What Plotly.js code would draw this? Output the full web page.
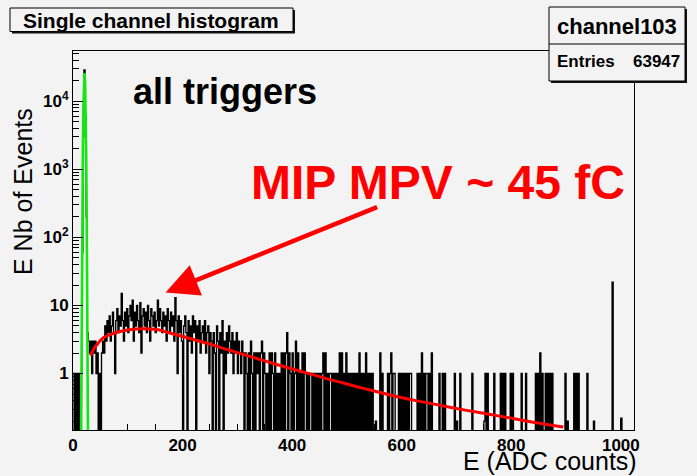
<!DOCTYPE html>
<html>
<head>
<meta charset="utf-8">
<script src="https://cdn.plot.ly/plotly-3.0.1.min.js"></script>
<style>
  html, body { margin: 0; padding: 0; background: #f3f3f3; }
  #chart { width: 697px; height: 476px; }
</style>
</head>
<body>
<div id="chart"></div>
<script>
// ---- histogram: channel 103, 2-ADC-wide bins from 0 to 1024 ----
const binWidth = 2;
const counts = [].concat(
  [1,0,1,0,1,0,1,1,60,3000,29000,6000,200,4,3,2],      //   0 -  31
  [3,1,3,2,3,1,2,0,1,0,2,3,2,5,3,6],                   //  32 -  63
  [4,7,3,5,8,4,1,6,9,4,7,5,15,6,3,8],                  //  64 -  95
  [5,9,4,7,10,6,12,3,8,5,10,6,4,11,2,7],               //  96 - 127
  [9,5,8,4,10,6,3,9,7,5,8,4,6,12,5,9],                 // 128 - 159
  [6,4,8,5,7,3,9,6,4,8,5,7,3,13,6,1],                  // 160 - 191
  [7,4,6,3,0,5,7,4,0,6,3,5,2,7,4,6],                   // 192 - 223
  [0,5,3,6,2,4,5,3,6,2,4,5,1,4,3,0],                   // 224 - 255
  [4,2,0,5,3,0,4,2,6,0,3,1,4,2,5,3],                   // 256 - 287
  [2,4,1,3,2,4,1,3,2,1,3,2,0,2,1,0],                   // 288 - 319
  [2,0,3,1,0,2,0,2,1,2,0,2,3,0,2,1],                   // 320 - 351
  [0,1,0,2,0,2,1,0,2,0,1,0,1,0,2,0],                   // 352 - 383
  [2,0,2,4,0,2,1,0,2,0,1,3,0,2,0,1],                   // 384 - 415
  [0,2,0,2,1,0,1,0,1,1,0,1,0,1,0,1],                   // 416 - 447
  [0,1,0,1,2,0,2,0,1,0,1,1,0,1,0,1],                   // 448 - 479
  [0,1,0,2,0,2,0,1,0,2,0,1,0,1,0,1],                   // 480 - 511
  [0,1,0,1,0,2,0,1,0,1,0,2,0,1,0,1],                   // 512 - 543
  [0,1,0,0,0.2,0,0,0,2,0,1,0,0,0,0,1],                 // 544 - 575
  [0,1,2,0,1,1,0,0,0,1,0,1,0,1,0,1],                   // 576 - 607
  [0,1,0,1,1,0,0,0,0,0,1,0,1,0,2,0],                   // 608 - 639
  [1,0,1,1,0,1,0,2,0,0,0,0,0,0,1,0],                   // 640 - 671
  [0,1,0,1,0,0,0,0,0,0,0,0,1,0,0.2,0],                 // 672 - 703
  [0,1,0,0,0,0,0,0,0,0,0,0,1,0,0,0],                   // 704 - 735
  [0,0,0,0,0,0,0,0.2,1,0,1,0,0,0,0,0],                 // 736 - 767
  [1,0,0,0,0,0,1,0,1,0,1,0,0,0,0,1],                   // 768 - 799
  [0,1,0,0,0,0,0,0,0,1,0,0,0,1,0,0],                   // 800 - 831
  [0,0,0,0,0,0,1,0,1,0,2,0,1,0,0,1],                   // 832 - 863
  [0,1,0,1,0,1,0,0,0,0,0,0,0,0,0,0],                   // 864 - 895
  [0,1,0,0.2,0,0,0,0,0,1,0,1,0,1,0,0],                 // 896 - 927
  [0,0,0,0,0,1,0,0,0,0,0,0.2,0,0,0,0],                 // 928 - 959
  [0,0,0,0,0,0,0,0,0,0,0,0,22,0,0,0],                  // 960 - 991
  [0,0,0,0,0.22,0,0,0,0,0,0,0,0,0,0,0]                 // 992 - 1023
);

// ---- pedestal gaussian fit (green) ----
const pedFitE = [14, 15, 16, 17, 18, 19, 20, 21, 22, 23, 24, 25, 26, 27, 28];
const pedFitN = [0.012, 0.6, 15, 230, 1800, 7900, 19300, 26000, 19300, 7900, 1800, 230, 15, 0.6, 0.012];

// ---- MIP fit (red) ----
const mipFitE = [32, 38, 44, 50, 56, 68, 80, 95, 110, 125, 140, 155, 172, 195, 220, 250, 282, 312, 342, 372,
                 403, 434, 464, 495, 525, 553, 580, 626, 671, 716, 762, 808, 854, 895];
const mipFitN = [1.84, 2.3, 2.67, 3.05, 3.38, 3.74, 4.05, 4.3, 4.48, 4.55, 4.52, 4.4, 4.05, 3.6, 3.16, 2.7, 2.25, 1.9, 1.6, 1.36,
                 1.15, 0.98, 0.835, 0.72, 0.62, 0.545, 0.48, 0.4, 0.34, 0.29, 0.25, 0.215, 0.184, 0.164];

// ---- axis ticks ----
const xTickVals = [0, 200, 400, 600, 800, 1000];
const xTickText = ['0', '200', '400', '600', '800', '1000'];
const yTickVals = [1, 10, 100, 1000, 10000];
const yTickText = ['1', '10', '10<sup>2</sup>', '10<sup>3</sup>', '10<sup>4</sup>'];

// ---- labels ----
const histTitle = 'Single channel histogram';
const statsName = 'channel103';
const statsEntriesLabel = 'Entries';
const statsEntries = '63947';
const triggerLabel = 'all triggers';
const mpvLabel = 'MIP MPV ~ 45 fC';
const xTitle = 'E (ADC counts)';
const yTitle = 'E Nb of Events';

// step outline of the histogram; empty bins drop below the axis floor
const FLOOR = 1e-3;
const stepX = [], stepY = [];
counts.forEach((c, i) => { stepX.push(i * binWidth); stepY.push(c > 0 ? c : FLOOR); });
stepX.push(counts.length * binWidth);
stepY.push(stepY[stepY.length - 1]);

// minor log ticks 2..9 per decade
const yMinor = [];
for (let d = -1; d <= 4; d++) for (let m = 2; m <= 9; m++) yMinor.push(m * Math.pow(10, d));

// frame geometry in pixels -> paper fractions
const L = 73, R = 634, T = 51, B = 430, W = 697, H = 476;
const px = x => (x - L) / (R - L);
const py = y => (B - y) / (B - T);

const FONT = 'Liberation Sans, Arial, Helvetica, sans-serif';

const traces = [
  { x: stepX, y: stepY, type: 'scatter', mode: 'lines',
    line: { shape: 'hv', color: '#000000', width: 1.35 }, hoverinfo: 'skip' },
  { x: pedFitE, y: pedFitN, type: 'scatter', mode: 'lines',
    line: { color: '#14e614', width: 2.6 }, hoverinfo: 'skip' },
  { x: mipFitE, y: mipFitN, type: 'scatter', mode: 'lines',
    line: { color: '#ff0000', width: 3, shape: 'spline' }, hoverinfo: 'skip' }
];

const boxShapes = [
  // title box with shadow
  { type: 'rect', xref: 'paper', yref: 'paper', x0: px(12), x1: px(295), y0: py(33.5), y1: py(10),
    fillcolor: '#111111', line: { width: 0 } },
  { type: 'rect', xref: 'paper', yref: 'paper', x0: px(10), x1: px(293), y0: py(31.5), y1: py(8),
    fillcolor: '#f3f3f3', line: { color: '#000000', width: 1 } },
  // statistics box with shadow
  { type: 'rect', xref: 'paper', yref: 'paper', x0: px(551), x1: px(687), y0: py(83), y1: py(9),
    fillcolor: '#111111', line: { width: 0 } },
  { type: 'rect', xref: 'paper', yref: 'paper', x0: px(549), x1: px(685), y0: py(81), y1: py(7),
    fillcolor: '#f3f3f3', line: { color: '#000000', width: 1 } },
  { type: 'line', xref: 'paper', yref: 'paper', x0: px(549), x1: px(685), y0: py(44), y1: py(44),
    line: { color: '#000000', width: 1 } }
];

const ann = (text, x, y, opts) => Object.assign({
  text: text, xref: 'paper', yref: 'paper', x: px(x), y: py(y), showarrow: false,
  xanchor: 'center', yanchor: 'middle', font: { family: FONT, size: 16, color: '#000000' }
}, opts || {});

const annotations = [
  ann(histTitle, 151, 20, { font: { family: FONT, size: 21, weight: 'bold', color: '#000' } }),
  ann(statsName, 617, 26, { font: { family: FONT, size: 22, weight: 'bold', color: '#000' } }),
  ann(statsEntriesLabel, 555, 62, { xanchor: 'left', font: { family: FONT, size: 17, weight: 'bold', color: '#000' } }),
  ann(statsEntries, 682, 62, { xanchor: 'right', font: { family: FONT, size: 17, weight: 'bold', color: '#000' } }),
  ann(triggerLabel, 131, 92, { xanchor: 'left', font: { family: FONT, size: 36, weight: 'bold', color: '#000' } }),
  ann(mpvLabel, 249, 182, { xanchor: 'left', font: { family: FONT, size: 48, weight: 'bold', color: '#ff0000' } }),
  ann(xTitle, 638, 476, { xanchor: 'right', yanchor: 'bottom', borderpad: 0,
      font: { family: FONT, size: 25, color: '#000' } }),
  ann(yTitle, 23, 192, { textangle: -90, font: { family: FONT, size: 25, color: '#000' } }),
  // arrow pointing at the MIP bump
  { xref: 'x', yref: 'y', x: 169, y: Math.log10(15.5), text: '', showarrow: true,
    ax: 213, ay: -86, axref: 'pixel', ayref: 'pixel',
    arrowhead: 2, arrowsize: 1.45, arrowwidth: 4.5, arrowcolor: '#ff0000', standoff: 0 }
];

const layout = {
  width: W, height: H,
  margin: { l: L, r: W - R, t: T, b: H - B, pad: 0 },
  paper_bgcolor: '#f3f3f3', plot_bgcolor: '#f3f3f3',
  showlegend: false,
  font: { family: FONT, color: '#000' },
  xaxis: {
    range: [0, 1024], showgrid: false, zeroline: false,
    showline: true, linecolor: '#000', linewidth: 1, mirror: true,
    ticks: 'inside', ticklen: 11, tickcolor: '#000', tickwidth: 1,
    tickmode: 'array', tickvals: xTickVals, ticktext: xTickText,
    tickfont: { family: FONT, size: 17, weight: 'bold', color: '#000' },
    minor: { tickmode: 'linear', tick0: 0, dtick: 50, ticks: 'inside', ticklen: 6, tickcolor: '#000', showgrid: false }
  },
  yaxis: {
    type: 'log', range: [-0.83, 4.74], showgrid: false, zeroline: false,
    showline: true, linecolor: '#000', linewidth: 1, mirror: true,
    ticks: 'inside', ticklen: 10, tickcolor: '#000', tickwidth: 1,
    tickmode: 'array', tickvals: yTickVals, ticktext: yTickText,
    tickfont: { family: FONT, size: 17, weight: 'bold', color: '#000' },
    minor: { tickmode: 'array', tickvals: yMinor, ticks: 'inside', ticklen: 6, tickcolor: '#000', showgrid: false }
  },
  shapes: boxShapes,
  annotations: annotations
};

Plotly.newPlot('chart', traces, layout, { staticPlot: true, displayModeBar: false });
</script>
</body>
</html>
